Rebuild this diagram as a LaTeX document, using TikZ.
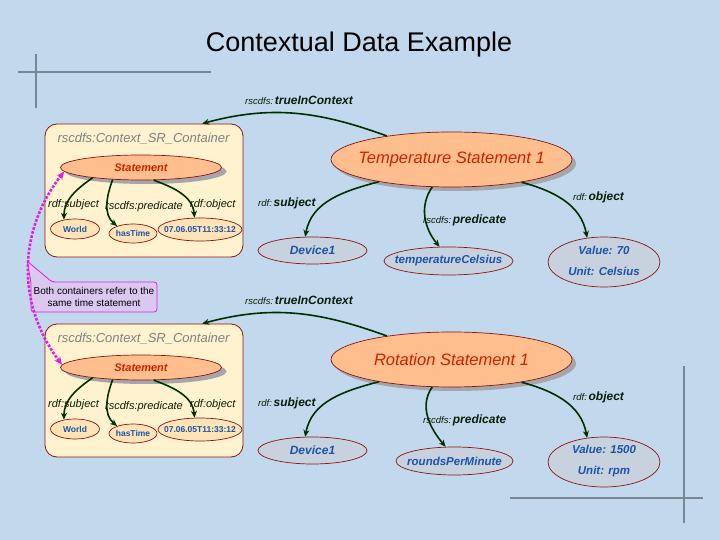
\documentclass[tikz,border=0pt]{standalone}
\usepackage{fontspec}
\setmainfont{Liberation Sans}
\usetikzlibrary{shapes.geometric,arrows.meta,shadows}
\definecolor{bg}{RGB}{194,216,236}
\definecolor{cont}{RGB}{255,242,206}
\definecolor{dred}{RGB}{140,20,20}
\definecolor{peach}{RGB}{255,190,142}
\definecolor{smallfill}{RGB}{255,228,184}
\definecolor{greyell}{RGB}{200,209,222}
\definecolor{stext}{RGB}{204,34,0}
\definecolor{btext}{RGB}{26,84,170}
\definecolor{arrgreen}{RGB}{0,48,0}
\definecolor{lbl}{RGB}{10,30,10}
\definecolor{shadowgrey}{RGB}{165,165,170}
\definecolor{mag}{RGB}{224,32,224}
\definecolor{notefill}{RGB}{218,200,240}
\definecolor{deco}{RGB}{120,135,150}
\definecolor{ctitle}{RGB}{128,128,128}
\newcommand\myfs[2]{\fontsize{#1}{#2}\selectfont}
\begin{document}
\begin{tikzpicture}[x=1pt,y=-1pt,
  decoline/.style={draw=deco,line width=1.3pt},
  titlestyle/.style={font=\myfs{27}{30},text=black,inner sep=0pt},
  contbox/.style={draw=dred,fill=cont,rounded corners=12pt,minimum width=198pt,minimum height=133pt,line width=0.8pt,inner sep=0pt},
  ctitlestyle/.style={font=\myfs{13}{15}\itshape,text=ctitle,inner sep=0pt},
  ell/.style={ellipse,draw=dred,line width=0.7pt,inner sep=0pt},
  stmtell/.style={ell,fill=peach,minimum width=161pt,minimum height=25pt,drop shadow={shadow xshift=5pt,shadow yshift=-4pt,fill=shadowgrey,opacity=1}},
  bigell/.style={ell,fill=peach,minimum width=241pt,minimum height=55pt,drop shadow={shadow xshift=4pt,shadow yshift=-4pt,fill=shadowgrey,opacity=1}},
  smallell/.style={ell,fill=smallfill},
  greyellstyle/.style={ell,fill=greyell},
  stmttxt/.style={font=\myfs{11}{13}\bfseries\itshape,text=stext,inner sep=0pt},
  maintxt/.style={font=\myfs{16.5}{19}\itshape,text=stext,inner sep=0pt},
  bluetxt/.style={font=\myfs{12}{14}\bfseries\itshape,text=btext,inner sep=0pt},
  valtxt/.style={font=\myfs{11.5}{21}\bfseries\itshape,text=btext,inner sep=0pt,align=center},
  smalltxt/.style={font=\myfs{8.5}{10}\bfseries,text=btext,inner sep=0pt},
  inlbl/.style={font=\myfs{11}{13}\itshape,text=lbl,inner sep=0pt,anchor=west},
  outlbl/.style={text=lbl,inner sep=0pt,anchor=west},
  arr/.style={draw=arrgreen,line width=1.6pt,-{Stealth[length=7pt,width=6pt]}},
  dotarr/.style={draw=mag,line width=2.6pt,dash pattern=on 2.6pt off 1.6pt,{Stealth[length=8pt,width=7pt]}-{Stealth[length=8pt,width=7pt]}},
  notetext/.style={font=\myfs{10}{12},text=black,align=center,inner sep=0pt}
]
\useasboundingbox (0,0) rectangle (720,540);
\fill[bg] (0,0) rectangle (720,540);
% decorative lines
\draw[decoline] (18,72) -- (211,72);
\draw[decoline] (36,54) -- (36,108);
\draw[decoline] (510,498) -- (703,498);
\draw[decoline] (684,366) -- (684,523);
% title
\node[titlestyle] (title) at (359,45) {Contextual Data Example};
% callout
\coordinate (notetip) at (27,261);
\draw[draw=mag,fill=notefill,line width=0.8pt,rounded corners=3pt] (notetip) -- (52,282) -- (157,282) -- (157,312) -- (31,312) -- (31,282) -- cycle;
\node[notetext] (note) at (94,296.5) {Both containers refer to the\\same time statement};
% two groups
\foreach \g/\dy/\main/\pred/\px/\pw/\va/\vb in {1/0/Temperature Statement 1/temperatureCelsius/448.5/129/Value: 70/Unit: Celsius, 2/200/Rotation Statement 1/roundsPerMinute/454.5/117/Value: 1500/Unit: rpm}{
  % container
  \node[contbox] (C\g) at (144,{190.5+\dy}) {};
  \node[ctitlestyle] (CT\g) at (143.5,{139+\dy}) {rscdfs:Context\_SR\_Container};
  \node[stmtell] (S\g) at (141,{167.5+\dy}) {};
  \node[stmttxt] (ST\g) at (S\g) {Statement};
  \node[smallell,minimum width=49pt,minimum height=20pt] (W\g) at (75,{229+\dy}) {};
  \node[smalltxt] (WT\g) at (W\g) {World};
  \node[smallell,minimum width=48pt,minimum height=19pt] (H\g) at (133,{233.5+\dy}) {};
  \node[smalltxt] (HT\g) at (H\g) {hasTime};
  \node[smallell,minimum width=84pt,minimum height=23pt] (D\g) at (200,{229.5+\dy}) {};
  \node[smalltxt] (DT\g) at (D\g) {07.06.05T11:33:12};
  \draw[arr] (S\g.192) to[out=215,in=90] (W\g.140);
  \draw[arr] (S\g.203) to[out=250,in=140] (H\g.155);
  \draw[arr] (S\g.315) to[out=-20,in=95] (D\g.115);
  \node[inlbl] (LS\g) at (48,{205+\dy}) {rdf:subject};
  \node[inlbl] (LP\g) at (105,{207+\dy}) {rscdfs:predicate};
  \node[inlbl] (LO\g) at (190,{205+\dy}) {rdf:object};
  % main statement
  \node[bigell] (M\g) at (451.5,{159.5+\dy}) {};
  \node[maintxt] (MT\g) at (M\g) {\main};
  \node[greyellstyle,minimum width=109pt,minimum height=27pt] (Dev\g) at (312.5,{250.5+\dy}) {};
  \node[bluetxt] (DevT\g) at (Dev\g) {Device1};
  \node[greyellstyle,minimum width=\pw pt,minimum height=28pt] (P\g) at (\px,{261+\dy}) {};
  \node[bluetxt,font=\myfs{11.5}{14}\bfseries\itshape] (PT\g) at (P\g) {\pred};
  \node[greyellstyle,minimum width=112pt,minimum height=50pt] (V\g) at (604,{262+\dy}) {};
  \node[valtxt] (VT\g) at ([yshift=1pt]V\g.center) {\va\\\vb};
  \draw[arr] (M\g.160) to[out=160,in=15] (C\g.49);
  \draw[arr] (M\g.197) to[out=195,in=80] (Dev\g.118);
  \draw[arr] (M\g.235) to[out=235,in=130] (P\g.122);
  \draw[arr] (M\g.342) to[out=-15,in=100] (V\g.125);
  \node[outlbl] (LT\g) at (245,{100+\dy}) {{\myfs{9.5}{12}\itshape rscdfs:}\,{\myfs{12}{14}\bfseries\itshape trueInContext}};
  \node[outlbl] (LMS\g) at (258,{203+\dy}) {{\myfs{9.5}{12}\itshape rdf:}\,{\myfs{12}{14}\bfseries\itshape subject}};
  \node[outlbl] (LMP\g) at (423,{220+\dy}) {{\myfs{9.5}{12}\itshape rscdfs:}\,{\myfs{12}{14}\bfseries\itshape predicate}};
  \node[outlbl] (LMO\g) at (573,{197+\dy}) {{\myfs{9.5}{12}\itshape rdf:}\,{\myfs{12}{14}\bfseries\itshape object}};
}
% dotted link between the two statements
\draw[dotarr] (S1.183) to[out=232,in=127] (S2.178);
\end{tikzpicture}
\end{document}
